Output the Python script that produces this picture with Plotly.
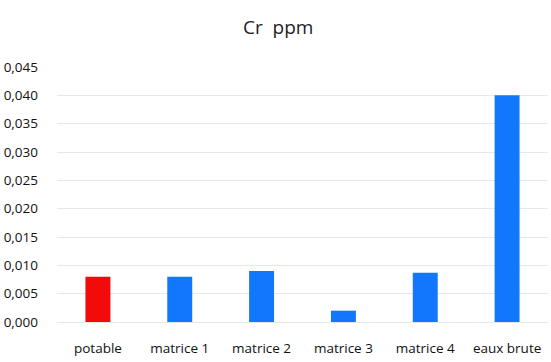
import plotly.graph_objects as go

categories = ["potable", "matrice 1", "matrice 2", "matrice 3", "matrice 4", "eaux brute"]
values = [0.008, 0.008, 0.009, 0.002, 0.0087, 0.040]
colors = ["#F30B0B", "#1277FC", "#1277FC", "#1277FC", "#1277FC", "#1277FC"]
tick_vals = [0, 0.005, 0.01, 0.015, 0.02, 0.025, 0.03, 0.035, 0.04, 0.045]
tick_text = ["0,000", "0,005", "0,010", "0,015", "0,020", "0,025", "0,030", "0,035", "0,040", "0,045"]

fig = go.Figure(go.Bar(x=categories, y=values, marker=dict(color=colors, line=dict(width=0))))
fig.update_layout(
    width=551, height=362,
    margin=dict(l=57, r=3, t=67, b=40),
    paper_bgcolor="white", plot_bgcolor="white",
    title=dict(text="Cr  ppm", x=0.505, xanchor="center", y=0.925, yanchor="middle",
               font=dict(family="Open Sans", size=19, color="#222")),
    bargap=0.695,
    showlegend=False,
    font=dict(family="Open Sans", size=12, color="#222"),
)
fig.update_yaxes(range=[0, 0.045], tickvals=tick_vals, ticktext=tick_text,
                 showgrid=True, gridcolor="#E8E8E8", gridwidth=1, zeroline=False,
                 showline=False, ticks="", ticklabelstandoff=18,
                 tickfont=dict(family="Open Sans", size=13.5, color="#111"))
fig.update_xaxes(showline=True, linecolor="#E8E8E8", linewidth=1, ticks="",
                 tickfont=dict(family="Open Sans", size=13.5, color="#111"), ticklabelstandoff=14)
fig.write_html("out.html", config={"displayModeBar": False},
               post_script="document.body.style.margin='0';")
